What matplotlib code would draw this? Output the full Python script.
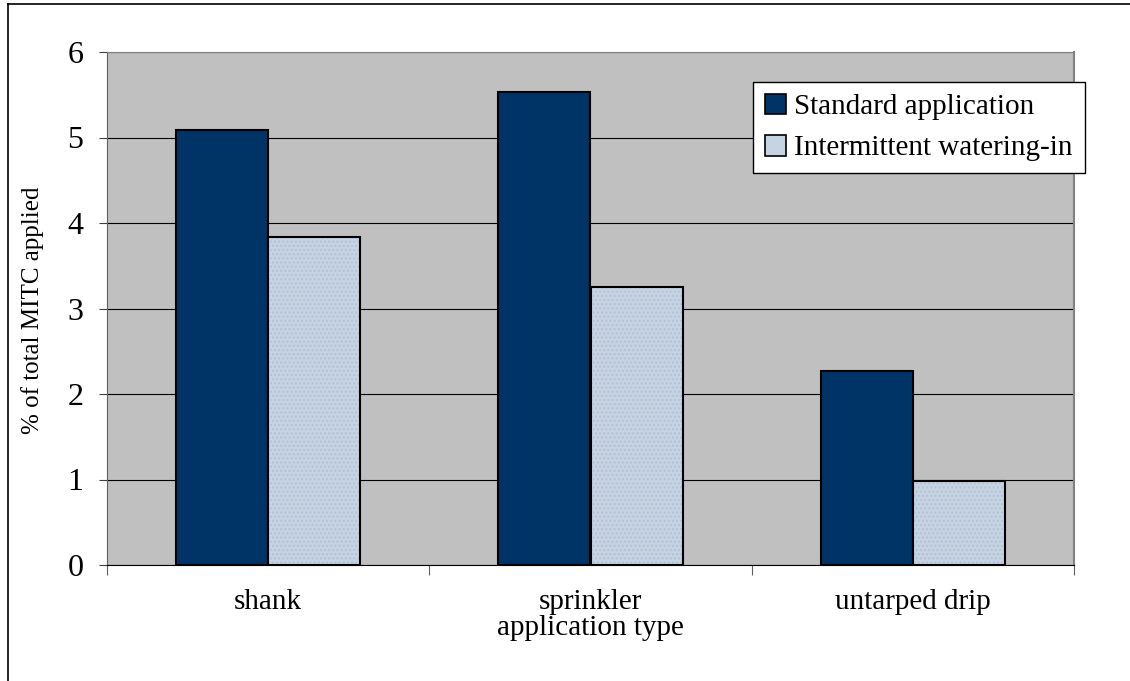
import matplotlib
matplotlib.use("Agg")
import matplotlib.pyplot as plt
from matplotlib.lines import Line2D
from matplotlib.patches import Patch
import numpy as np

categories = ["shank", "sprinkler", "untarped drip"]
series_names = ["Standard application", "Intermittent watering-in"]
standard = [5.09, 5.53, 2.27]
intermittent = [3.84, 3.25, 0.98]
yticks = [0, 1, 2, 3, 4, 5, 6]

plt.rcParams['font.family'] = ['Liberation Serif', 'DejaVu Serif']

W, H = 1130, 681
fig = plt.figure(figsize=(W / 100, H / 100), dpi=100)
ax = fig.add_axes([107 / W, 1 - 565 / H, (1074 - 107) / W, (565 - 52) / H])
ax.set_facecolor('#c0c0c0')

x = np.arange(len(categories))
bw = 0.286
dark = '#003366'
light = '#c5d3e3'
ax.bar(x - bw / 2, standard, bw, color=dark, edgecolor='black', linewidth=1.5, zorder=3)
ax.bar(x + bw / 2, intermittent, bw, color=light, edgecolor='#b4c2d4', hatch='....',
       linewidth=0, zorder=3)
ax.bar(x + bw / 2, intermittent, bw, color='none', edgecolor='black', linewidth=1.5, zorder=4)

ax.set_xlim(-0.5, len(categories) - 0.5)
ax.set_ylim(0, 6)
ax.set_yticks(yticks)
ax.set_yticklabels([str(v) for v in yticks], fontsize=23)
ax.yaxis.grid(True, color='black', linewidth=0.8, zorder=1)
ax.set_axisbelow(True)

ax.set_xticks(np.arange(len(categories) + 1) - 0.5)
ax.set_xticklabels([])
ax.set_xticks(x, minor=True)
ax.set_xticklabels(categories, minor=True, fontsize=21)
ax.tick_params(axis='x', which='minor', length=0, pad=17)
ax.tick_params(axis='x', which='major', length=7, direction='out', color='#606060')
ax.tick_params(axis='y', length=6, direction='out', pad=11, color='#404040')

ax.spines['top'].set_color('#808080')
ax.spines['right'].set_color('#808080')
ax.spines['right'].set_linewidth(1.5)
ax.spines['left'].set_color('#606060')
ax.spines['bottom'].set_color('black')

fig.text(590 / W, 1 - 628 / H, "application type", ha='center', va='center', fontsize=21)
fig.text(33 / W, 1 - 310 / H, "% of total MITC applied", ha='center', va='center',
         rotation=90, fontsize=18)

handles = [Patch(facecolor=dark, edgecolor='black', linewidth=1.2),
           Patch(facecolor=light, edgecolor='black', linewidth=1.2)]
leg = fig.legend(handles, series_names, loc='upper left',
                 bbox_to_anchor=(753 / W, 1 - 82 / H), fontsize=21,
                 frameon=True, fancybox=False, edgecolor='black', framealpha=1,
                 handlelength=0.72, handleheight=0.72, handletextpad=0.3,
                 borderpad=0.4, labelspacing=0.5, borderaxespad=0)
leg.get_frame().set_linewidth(1.0)

fig.add_artist(Line2D([8 / W, 1], [1 - 4 / H, 1 - 4 / H], color='black', linewidth=1.2,
                      transform=fig.transFigure))
fig.add_artist(Line2D([8 / W, 8 / W], [0, 1 - 4 / H], color='black', linewidth=1.2,
                      transform=fig.transFigure))

fig.savefig("out.png", dpi=100)
